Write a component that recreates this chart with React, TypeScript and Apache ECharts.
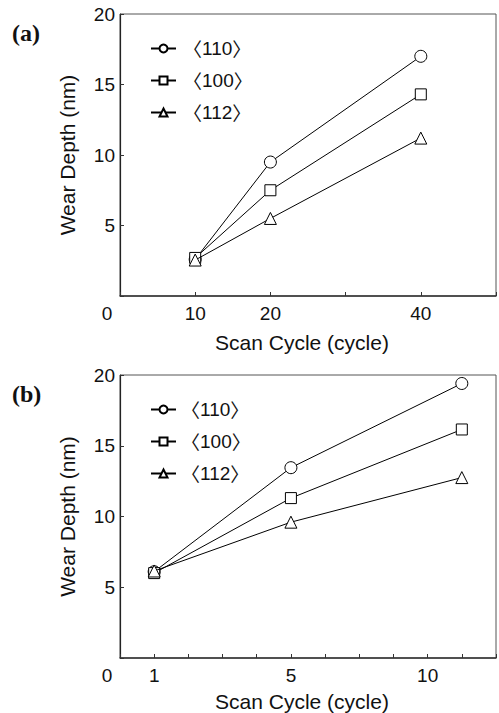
import React, { useEffect, useRef } from "react";
import * as echarts from "echarts";

// ---- data ----
const seriesNames = ["〈110〉", "〈100〉", "〈112〉"];
const seriesSymbols = ["circle", "rect", "triangle"];
const seriesSymbolSizes = [12, 11, 12];

// panel (a)
const cyclesA = [10, 20, 40];
const depthA110 = [2.6, 9.5, 17.0];
const depthA100 = [2.7, 7.5, 14.3];
const depthA112 = [2.55, 5.5, 11.2];

// panel (b)
const cyclesB = [1, 5, 10];
const depthB110 = [6.1, 13.45, 19.4];
const depthB100 = [6.0, 11.3, 16.15];
const depthB112 = [6.15, 9.6, 12.75];

// tick labels
const xTickValuesA = [0, 10, 20, 40];
const xTickTextA = ["0", "10", "20", "40"];
const xTickValuesB = [0, 1, 5, 9];
const xTickTextB = ["0", "1", "5", "10"];
const yTickValues = [5, 10, 15, 20];

const panelLabels = ["(a)", "(b)"];
const xTitle = "Scan Cycle (cycle)";
const yTitle = "Wear Depth (nm)";

const FONT = "'Liberation Sans', Arial, sans-serif";
const CJK = "'Noto Sans CJK JP', sans-serif";
const INK = "#111";

function makeXAxis(gridIndex: number, max: number, interval: number, vals: number[], texts: string[], nameGap: number) {
  return {
    type: "value",
    gridIndex,
    min: 0,
    max,
    interval,
    axisLine: { show: true, onZero: false, lineStyle: { color: "#333", width: 1.5 } },
    axisTick: { show: true, inside: true, length: 4, lineStyle: { color: "#333", width: 1 } },
    splitLine: { show: false },
    axisLabel: {
      margin: 8,
      color: INK,
      fontSize: 19,
      fontFamily: FONT,
      formatter: (v: number) => {
        const i = vals.indexOf(v);
        if (i < 0) return "";
        if (v === 0) return "{z|" + texts[i] + "}";
        return texts[i];
      },
      rich: { z: { fontSize: 19, fontFamily: FONT, color: INK, padding: [0, 26, 0, 0] } },
    },
    name: xTitle,
    nameLocation: "middle",
    nameGap,
    nameTextStyle: { fontSize: 21, fontFamily: FONT, color: INK, padding: [0, 12, 0, 0] },
  };
}

function makeYAxis(gridIndex: number) {
  return {
    type: "value",
    gridIndex,
    min: 0,
    max: 20,
    interval: 5,
    axisLine: { show: true, onZero: false, lineStyle: { color: "#222", width: 1.2 } },
    axisTick: { show: true, inside: true, length: 4, lineStyle: { color: "#333", width: 1 } },
    splitLine: { show: false },
    axisLabel: {
      margin: 5,
      color: INK,
      fontSize: 19,
      fontFamily: FONT,
      padding: [6, 0, 0, 0],
      formatter: (v: number) => (yTickValues.indexOf(v) >= 0 ? String(v) : ""),
    },
    name: yTitle,
    nameLocation: "middle",
    nameGap: 42,
    nameTextStyle: { fontSize: 21, fontFamily: FONT, color: INK },
  };
}

function makeSeries(idx: number, gridIndex: number, xs: number[], ys: number[]) {
  return {
    type: "line",
    name: seriesNames[idx],
    xAxisIndex: gridIndex,
    yAxisIndex: gridIndex,
    data: xs.map((x, i) => [x, ys[i]]),
    symbol: seriesSymbols[idx],
    symbolSize: seriesSymbolSizes[idx],
    showAllSymbol: true,
    lineStyle: { color: "#000", width: 1 },
    itemStyle: { color: "#fff", borderColor: "#000", borderWidth: 1 },
    z: 2 + idx,
  };
}

function makeLegend(top: number, padLeft: number) {
  return {
    data: seriesNames,
    orient: "vertical",
    left: 145,
    top,
    itemWidth: 25,
    itemHeight: 10,
    itemGap: 13,
    selectedMode: false,
    formatter: (name: string) => {
      const inner = name.slice(1, name.length - 1);
      return "{b|" + name[0] + "}{d|" + inner + "}{b|" + name[name.length - 1] + "}";
    },
    textStyle: {
      color: INK,
      padding: [0, 0, 0, padLeft],
      rich: {
        b: { fontSize: 19, fontFamily: CJK, color: INK },
        d: { fontSize: 19, fontFamily: FONT, color: INK },
      },
    },
  };
}

export default function App() {
  const ref = useRef<HTMLDivElement>(null);
  useEffect(() => {
    if (!ref.current) return;
    const chart = echarts.init(ref.current, null, { renderer: "svg" });
    const option = {
      animation: false,
      backgroundColor: "#fff",
      grid: [
        { left: 120, top: 14, width: 378, height: 282, show: true, borderColor: "#555", borderWidth: 1, backgroundColor: "transparent" },
        { left: 120, top: 375, width: 377, height: 284, show: true, borderColor: "#555", borderWidth: 1, backgroundColor: "transparent" },
      ],
      xAxis: [
        makeXAxis(0, 50, 10, xTickValuesA, xTickTextA, 36),
        makeXAxis(1, 11, 1, xTickValuesB, xTickTextB, 33),
      ],
      yAxis: [makeYAxis(0), makeYAxis(1)],
      legend: [makeLegend(34, 2), makeLegend(395, 0)],
      series: [
        makeSeries(0, 0, cyclesA, depthA110),
        makeSeries(1, 0, cyclesA, depthA100),
        makeSeries(2, 0, cyclesA, depthA112),
        makeSeries(0, 1, cyclesB, depthB110),
        makeSeries(1, 1, cyclesB, depthB100),
        makeSeries(2, 1, cyclesB, depthB112),
      ],
      graphic: [
        { type: "text", left: 12, top: 21, style: { text: panelLabels[0], font: "bold 24px 'Liberation Serif', serif", fill: INK } },
        { type: "text", left: 12, top: 382, style: { text: panelLabels[1], font: "bold 24px 'Liberation Serif', serif", fill: INK } },
      ],
    };
    chart.setOption(option as any);
    return () => chart.dispose();
  }, []);
  return <div ref={ref} style={{ position: "absolute", left: 0, top: 0, width: 499, height: 713 }} />;
}
